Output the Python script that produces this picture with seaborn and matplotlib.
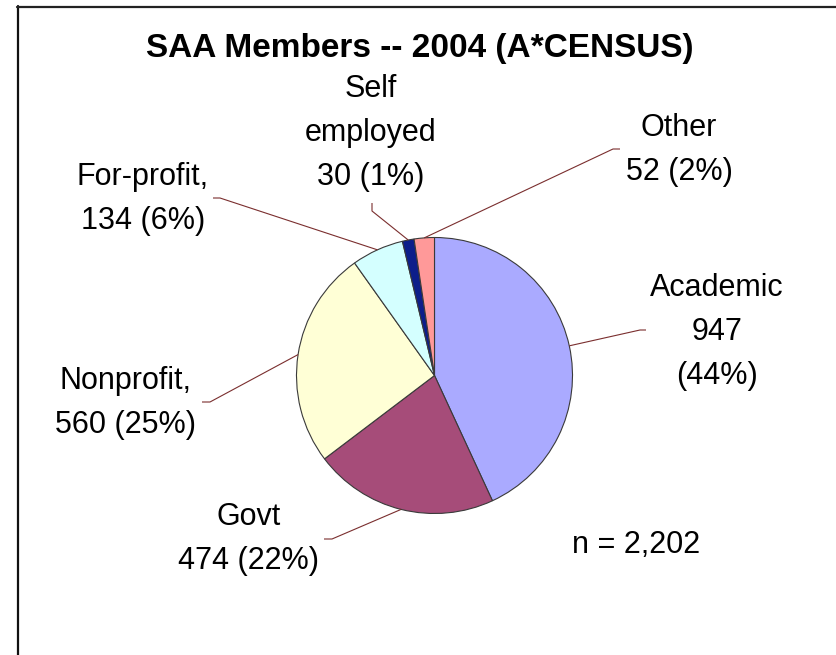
import matplotlib
matplotlib.use("Agg")
import matplotlib.pyplot as plt
import seaborn as sns
import numpy as np

# ---- data ----
groups = ["Academic", "Govt", "Nonprofit", "For-profit", "Self employed", "Other"]
members = [947, 474, 560, 134, 30, 52]
pct = [44, 22, 25, 6, 1, 2]
label_text = ["Academic\n{}\n({}%)", "Govt\n{} ({}%)", "Nonprofit,\n{} ({}%)",
              "For-profit,\n{} ({}%)", "Self\nemployed\n{} ({}%)", "Other\n{} ({}%)"]
total_n = "2,202"
colors = ["#AAAAFF", "#A64C79", "#FFFFD6", "#D4FFFF", "#0D1E8A", "#FF9999"]

# ---- layout (pixels, image coords: y down) ----
W, H = 837, 655
def iy(y):
    return H - y

pie_cx, pie_cy, pie_r = 434.5, 375.5, 138
label_pos = [(717, 332), (249, 539), (126, 403), (143, 199), (371, 133), (679, 150)]
leader_knee = [(640, 330), (332, 539), (210, 402), (220, 198), (372, 211), (613, 149)]
leader_end = [(646, 330), (324, 539), (202, 402), (213, 198), (372, 203), (620, 149)]

sns.set_style("white")
plt.rcParams["font.family"] = ["Liberation Sans", "DejaVu Sans"]
plt.rcParams["text.color"] = "black"

fig = plt.figure(figsize=(W / 100, H / 100), dpi=100)
ax = fig.add_axes([0, 0, 1, 1])

wedges, _ = ax.pie(members, colors=colors, startangle=90, counterclock=False,
                   center=(pie_cx, iy(pie_cy)), radius=pie_r,
                   wedgeprops=dict(edgecolor="#3a3a3a", linewidth=0.8))
ax.set_xlim(0, W)
ax.set_ylim(0, H)
ax.set_aspect("equal")
ax.axis("off")

# leader lines + labels
for w, txt, n, p, pos, knee, end in zip(wedges, label_text, members, pct,
                                         label_pos, leader_knee, leader_end):
    mid = np.deg2rad((w.theta1 + w.theta2) / 2)
    ex = pie_cx + pie_r * np.cos(mid)
    ey = iy(pie_cy) + pie_r * np.sin(mid)
    ax.plot([ex, knee[0], end[0]], [ey, iy(knee[1]), iy(end[1])],
            color="#7a2e2e", lw=0.8, solid_capstyle="butt")
    ax.text(pos[0], iy(pos[1]), txt.format(n, p), ha="center", va="center",
            multialignment="center", fontsize=22, linespacing=1.6, color="black")

ax.text(636, iy(545), "n = " + total_n, ha="center", va="center", fontsize=22,
        color="black")
ax.text(420, iy(48), "SAA Members -- 2004 (A*CENSUS)", ha="center", va="center",
        fontsize=24, fontweight="bold", color="black")

# chart frame (only top and left edges are inside the picture)
ax.plot([18, 18], [iy(6), iy(H + 5)], color="#111111", lw=1.6, clip_on=False)
ax.plot([17, W + 5], [iy(6.5), iy(6.5)], color="#222222", lw=1.6, clip_on=False)

fig.savefig("out.png", dpi=100)
